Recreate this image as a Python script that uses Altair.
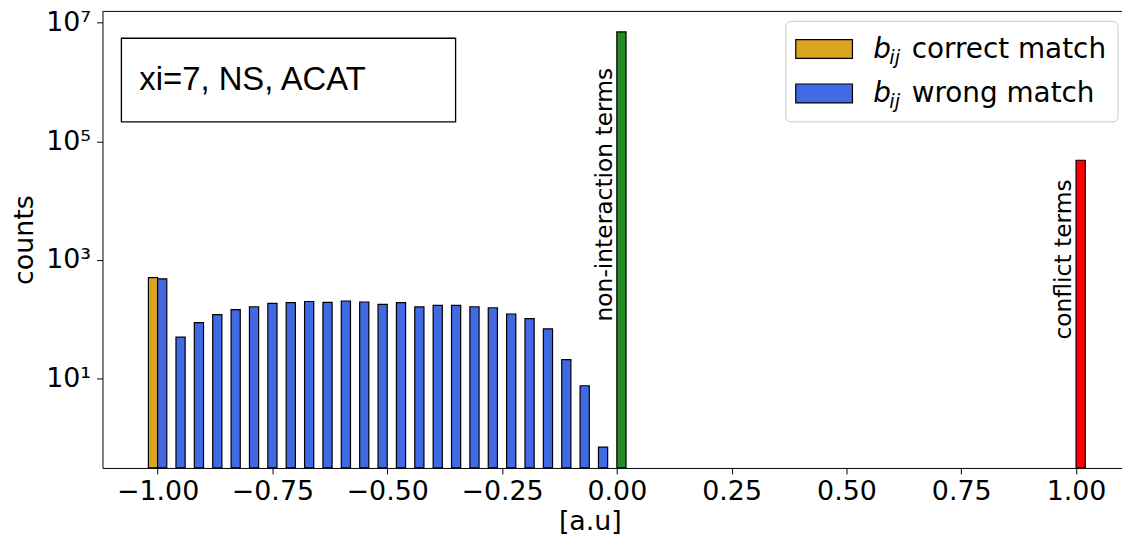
import altair as alt
import pandas as pd

# ---------------- data ----------------
BAR_W = 0.02  # width of one histogram bar in data units

correct_left = [-1.02]
correct_counts = [507]

wrong_left = [-1.00, -0.96, -0.92, -0.88, -0.84, -0.80, -0.76, -0.72, -0.68,
              -0.64, -0.60, -0.56, -0.52, -0.48, -0.44, -0.40, -0.36, -0.32,
              -0.28, -0.24, -0.20, -0.16, -0.12, -0.08, -0.04]
wrong_counts = [482, 50, 88, 120, 146, 163, 186, 191, 200, 193, 204, 196, 179,
                191, 162, 172, 172, 163, 157, 123, 103, 69, 21, 7.6, 0.70]

nonint_left = [0.0]
nonint_counts = [7.0e6]

conflict_left = [1.0]
conflict_counts = [4.8e4]

series_names = ["correct", "wrong", "non-interaction", "conflict"]
series_colors = ["#DAA520", "#4169E1", "#228B22", "#FF0000"]

x_ticks = [-1.0, -0.75, -0.5, -0.25, 0.0, 0.25, 0.5, 0.75, 1.0]
y_ticks = [10, 1e3, 1e5, 1e7]
y_tick_labels = ["10¹", "10³", "10⁵", "10⁷"]

annot_texts = ["non-interaction terms", "conflict terms"]
annot_x = [-0.011, 0.9885]
annot_y = [92, 45.6]

box_text = "xi=7, NS, ACAT"
legend_labels = ["correct match", "wrong match"]

# ---------------- build table ----------------
rows = []
for name, lefts, counts in [("correct", correct_left, correct_counts),
                            ("wrong", wrong_left, wrong_counts),
                            ("non-interaction", nonint_left, nonint_counts),
                            ("conflict", conflict_left, conflict_counts)]:
    for l, c in zip(lefts, counts):
        rows.append({"left": l, "right": round(l + BAR_W, 4), "count": c, "series": name})
df = pd.DataFrame(rows)

W, H = 1025, 459
FONT = "DejaVu Sans"

expr = "''"
for v, lab in reversed(list(zip(y_ticks, y_tick_labels))):
    expr = f"(abs(datum.value - {v}) < {v * 1e-3}) ? '{lab}' : ({expr})"

x_scale = alt.Scale(domain=[-1.12, 1.10], nice=False, zero=False)
y_scale = alt.Scale(type="log", domain=[0.313, 1.55e7], nice=False)

bars = alt.Chart(df).mark_rect(stroke="black", strokeWidth=1.2).encode(
    x=alt.X("left:Q", scale=x_scale, title="[a.u]",
            axis=alt.Axis(values=x_ticks, format=".2f", labelFlush=False,
                          labelOverlap=False, titleBaseline="alphabetic",
                          titleX=490, titleY=62, labelPadding=5)),
    x2="right:Q",
    y=alt.Y("count:Q", scale=y_scale, title="counts",
            axis=alt.Axis(values=y_ticks, labelExpr=expr, labelFlush=False,
                          labelOverlap=False, titleAngle=270,
                          titleBaseline="alphabetic", titleX=-70,
                          titleY=H / 2, labelPadding=6)),
    y2=alt.value(H),
    color=alt.Color("series:N", scale=alt.Scale(domain=series_names, range=series_colors),
                    legend=None),
)

annot_df = pd.DataFrame({"text": annot_texts, "ax": annot_x, "ay": annot_y})
annots = alt.Chart(annot_df).mark_text(
    angle=270, align="left", baseline="alphabetic", font=FONT, fontSize=23.5, color="black"
).encode(
    x=alt.X("ax:Q", scale=x_scale),
    y=alt.Y("ay:Q", scale=y_scale),
    text="text:N",
)

one = pd.DataFrame({"v": [0]})

top_spine = alt.Chart(one).mark_rule(color="black", strokeWidth=1).encode(
    x=alt.value(0), x2=alt.value(W), y=alt.value(0)
)

textbox = alt.Chart(one).mark_rect(fill="white", stroke="black", strokeWidth=1.3).encode(
    x=alt.value(19), x2=alt.value(355), y=alt.value(27), y2=alt.value(111)
)
textbox_text = alt.Chart(one).mark_text(
    align="left", baseline="alphabetic", font="Liberation Sans", fontSize=33, color="black"
).encode(x=alt.value(37), y=alt.value(79.3), text=alt.value(box_text))

legend_box = alt.Chart(one).mark_rect(
    fill="white", stroke="#cccccc", strokeWidth=1, cornerRadius=5
).encode(x=alt.value(687), x2=alt.value(1021), y=alt.value(10), y2=alt.value(111))

legend_layers = [legend_box]
for i, (lab, col) in enumerate(zip(legend_labels, series_colors[:2])):
    dy = i * 44.7
    legend_layers.append(
        alt.Chart(one).mark_rect(fill=col, stroke="black", strokeWidth=1.2).encode(
            x=alt.value(697), x2=alt.value(754), y=alt.value(28.3 + dy), y2=alt.value(47.3 + dy)
        )
    )
    legend_layers.append(
        alt.Chart(one).mark_text(align="left", baseline="alphabetic", font=FONT,
                                 fontSize=28, fontStyle="italic", color="black").encode(
            x=alt.value(775), y=alt.value(46.7 + dy), text=alt.value("b"))
    )
    legend_layers.append(
        alt.Chart(one).mark_text(align="left", baseline="alphabetic", font=FONT,
                                 fontSize=19.5, fontStyle="italic", color="black").encode(
            x=alt.value(791), y=alt.value(52.7 + dy), text=alt.value("ij"))
    )
    legend_layers.append(
        alt.Chart(one).mark_text(align="left", baseline="alphabetic", font=FONT,
                                 fontSize=28, color="black").encode(
            x=alt.value(813.5), y=alt.value(46.7 + dy), text=alt.value(lab))
    )

chart = alt.layer(
    bars, annots, top_spine, textbox, textbox_text, *legend_layers
).properties(
    width=W, height=H,
    padding={"left": 95, "top": 2, "right": 0, "bottom": 69},
    autosize=alt.AutoSizeParams(type="none"),
    background="white",
).configure_view(stroke=None).configure_axis(
    labelFont=FONT, labelFontSize=27, labelColor="black",
    titleFont=FONT, titleFontSize=27, titleFontWeight="normal", titleColor="black",
    tickColor="black", tickSize=6, tickWidth=1, domainColor="black", domainWidth=1,
    grid=False,
)

chart.save("out.html", embed_options={"renderer": "svg", "actions": False})
